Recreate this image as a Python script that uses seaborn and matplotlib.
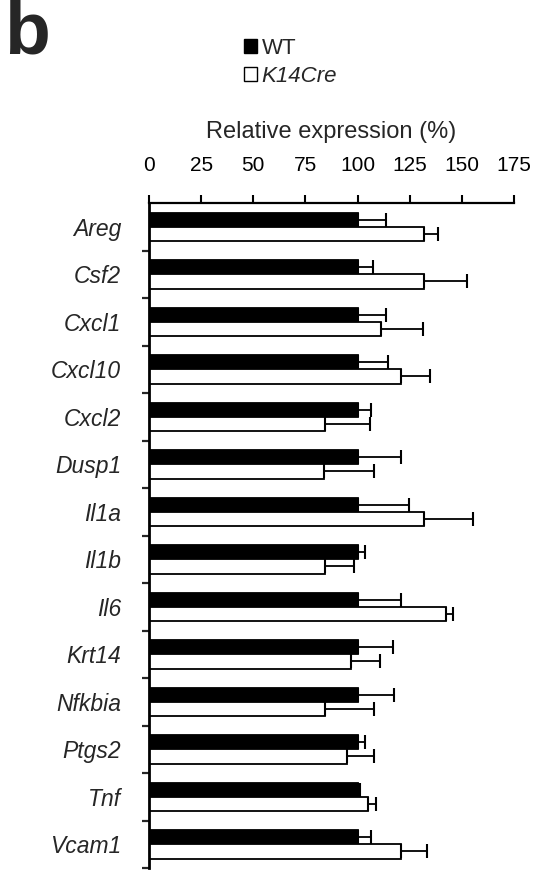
import numpy as np
import pandas as pd
import matplotlib
matplotlib.use("Agg")
import matplotlib.pyplot as plt
from matplotlib.patches import Patch
import seaborn as sns

genes = ["Areg", "Csf2", "Cxcl1", "Cxcl10", "Cxcl2", "Dusp1", "Il1a", "Il1b",
         "Il6", "Krt14", "Nfkbia", "Ptgs2", "Tnf", "Vcam1"]
groups = ["WT", "K14Cre"]
wt_mean = [100, 100, 100, 100, 100, 100, 100, 100, 100, 100, 100, 100, 100, 100]
wt_err = [13.5, 7.6, 13.7, 14.8, 6.6, 20.8, 24.7, 3.8, 20.8, 16.9, 17.7, 3.8, 1.0, 6.6]
k14_mean = [131.9, 131.9, 111.0, 121.0, 84.6, 83.8, 131.7, 84.6, 142.6, 96.7, 84.6, 95.0, 105.2, 120.8]
k14_err = [6.5, 20.6, 20.6, 13.9, 21.2, 24.0, 23.8, 13.9, 3.1, 14.1, 23.2, 12.8, 3.5, 12.7]
xticks = [0, 25, 50, 75, 100, 125, 150, 175]

df = pd.DataFrame({
    "gene": genes * 2,
    "group": ["WT"] * len(genes) + ["K14Cre"] * len(genes),
    "value": wt_mean + k14_mean,
})

sns.set_theme(style="white")
plt.rcParams["font.family"] = ["Liberation Sans", "DejaVu Sans"]

fig = plt.figure(figsize=(5.35, 8.71), dpi=100)
ax = fig.add_axes([149 / 535, 3 / 871, 365 / 535, 665 / 871])

sns.barplot(data=df, y="gene", x="value", hue="group", hue_order=groups,
            order=genes, palette={"WT": "black", "K14Cre": "white"},
            edgecolor="black", linewidth=1.3, width=0.6, orient="h",
            errorbar=None, legend=False, ax=ax)

errs = {"WT": wt_err, "K14Cre": k14_err}
for cont, g in zip(ax.containers, groups):
    xs = [b.get_width() for b in cont]
    ys = [b.get_y() + b.get_height() / 2 for b in cont]
    e = errs[g]
    ax.errorbar(xs, ys, xerr=[np.zeros(len(e)), e], fmt="none", ecolor="black",
                elinewidth=1.3, capsize=5, capthick=1.5, zorder=1)

ax.set_xlim(0, 175)
ax.set_ylim(len(genes) - 0.5, -0.5)
ax.xaxis.tick_top()
ax.xaxis.set_label_position("top")
ax.set_xticks(xticks)
ax.set_xticklabels([str(t) for t in xticks], fontsize=15)
ax.set_xlabel("Relative expression (%)", fontsize=17, labelpad=13)
ax.set_ylabel("")
ax.tick_params(axis="x", direction="out", length=6, width=1.5, pad=14, colors="black")

ax.set_yticks(range(len(genes)))
ax.set_yticklabels(genes, fontsize=16.5, fontstyle="italic")
ax.tick_params(axis="y", which="major", length=0, pad=20)
ax.set_yticks(np.arange(0.5, len(genes), 1), minor=True)
ax.tick_params(axis="y", which="minor", direction="out", length=5, width=1.6, left=True)

for s in ["right", "bottom"]:
    ax.spines[s].set_visible(False)
ax.spines["top"].set_visible(True)
ax.spines["top"].set_color("black")
ax.spines["top"].set_linewidth(1.6)
ax.spines["left"].set_visible(True)
ax.spines["left"].set_color("black")
ax.spines["left"].set_linewidth(2.0)

fig.text(0.008, 1.0, "b", fontsize=54, fontweight="bold", va="top", ha="left")

handles = [Patch(facecolor="black", edgecolor="black", linewidth=1),
           Patch(facecolor="white", edgecolor="black", linewidth=1)]
leg = fig.legend(handles, groups, loc="upper left",
                 bbox_to_anchor=(235 / 535, 1 - 29 / 871), frameon=False,
                 fontsize=16, handlelength=0.6, handleheight=0.6,
                 handletextpad=0.2, labelspacing=0.3, borderaxespad=0)
leg.get_texts()[1].set_fontstyle("italic")

fig.savefig("out.png", dpi=100)
